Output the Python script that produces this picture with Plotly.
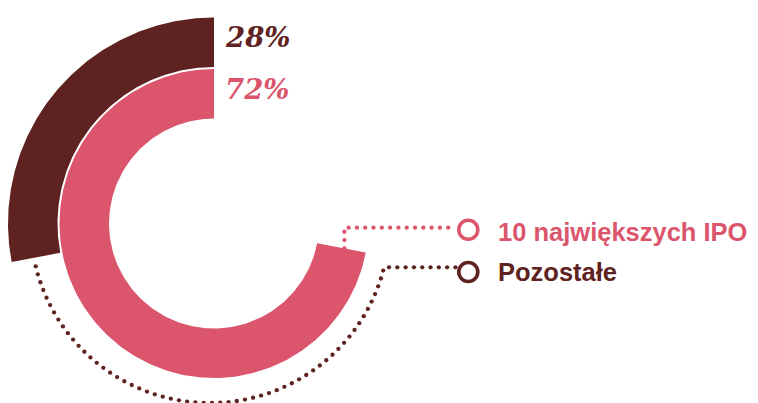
import numpy as np
import plotly.graph_objects as go

# ---- data ----
labels = ["10 największych IPO", "Pozostałe"]
shares = [72, 28]
pct_text = ["72%", "28%"]
colors = ["#DB556D", "#5E2220"]

# ---- geometry (pixel-like units, centre of rings at origin) ----
W, H = 758, 403
PAD = 8                                    # default page body margin
CX, CY = 214, 223.5
bands = [(105, 154.5), (156.5, 206)]       # inner/outer radius: pink, dark
legend_line_y = [-4.2, -43.8]              # dotted connector heights
legend_mark_y = [-6.2, -48.5]
legend_text_y = [-8.5, -48.5]
legend_mark_x = 254.3
legend_text_x = 282
line_end_x = 242
dot_step = 8.3
dot_size = 4.3


def arc_polygon(r0, r1, a0, a1, n=240):
    t = np.radians(np.linspace(a0, a1, n))
    xs = np.concatenate([r1 * np.cos(t), r0 * np.cos(t[::-1])])
    ys = np.concatenate([r1 * np.sin(t), r0 * np.sin(t[::-1])])
    return np.append(xs, xs[0]), np.append(ys, ys[0])


def dots_along(xs, ys, step=dot_step):
    xs, ys = np.asarray(xs, float), np.asarray(ys, float)
    d = np.hypot(np.diff(xs), np.diff(ys))
    s = np.concatenate([[0], np.cumsum(d)])
    si = np.arange(0, s[-1] + 1e-6, step)
    return np.interp(si, s, xs), np.interp(si, s, ys)


fig = go.Figure()

# rings
for share, col, (r0, r1) in zip(shares, colors, bands):
    span = share * 3.6
    xs, ys = arc_polygon(r0, r1, 90, 90 + span)
    fig.add_trace(go.Scatter(x=xs, y=ys, fill="toself", fillcolor=col,
                             line=dict(width=0), mode="lines",
                             hoverinfo="skip"))

# pink connector: from end of pink ring up and right to legend
a_end = np.radians(90 + shares[0] * 3.6)
rmid = (bands[0][0] + bands[0][1]) / 2 + 3
x0, y0 = rmid * np.cos(a_end), rmid * np.sin(a_end)
px, py = dots_along([x0, x0, line_end_x], [y0, legend_line_y[0], legend_line_y[0]])
fig.add_trace(go.Scatter(x=px, y=py, mode="markers",
                         marker=dict(size=dot_size, color=colors[0]),
                         hoverinfo="skip"))

# dark connector: dotted arc around the bottom, then right to legend
arc_c, arc_r = -4, 179.5
a0 = 90 + shares[1] * 3.6 + 3
a1 = 360 + np.degrees(np.arcsin(legend_line_y[1] / arc_r))
t = np.radians(np.linspace(a0, a1, 400))
ax = list(arc_c + arc_r * np.cos(t)) + [line_end_x]
ay = list(arc_r * np.sin(t)) + [legend_line_y[1]]
dx, dy = dots_along(ax, ay)
fig.add_trace(go.Scatter(x=dx, y=dy, mode="markers",
                         marker=dict(size=dot_size, color=colors[1]),
                         hoverinfo="skip"))

# legend circles + texts
for lab, col, my, ty in zip(labels, colors, legend_mark_y, legend_text_y):
    fig.add_trace(go.Scatter(x=[legend_mark_x], y=[my], mode="markers",
                             marker=dict(size=19, color="white",
                                         line=dict(width=3.6, color=col)),
                             hoverinfo="skip"))
    fig.add_annotation(x=legend_text_x, y=ty, text=lab, showarrow=False,
                       xanchor="left", yanchor="middle",
                       font=dict(family="Liberation Sans, Arial", size=25.5,
                                 color=col, weight="bold"))

# percentage labels
for txt, col, (r0, r1) in zip(pct_text, colors, bands):
    fig.add_annotation(x=9, y=(r0 + r1) / 2 + 5, text=txt, showarrow=False,
                       xanchor="left", yanchor="middle",
                       font=dict(family="DejaVu Serif", size=27.5, color=col,
                                 weight="bold", style="italic"))

fig.update_layout(
    width=W - PAD, height=H - PAD, margin=dict(l=0, r=0, t=0, b=0),
    paper_bgcolor="white", plot_bgcolor="white", showlegend=False,
    xaxis=dict(range=[-(CX - PAD), W - CX], visible=False, fixedrange=True),
    yaxis=dict(range=[CY - H, CY - PAD], visible=False, fixedrange=True),
)

fig.write_html("out.html")
